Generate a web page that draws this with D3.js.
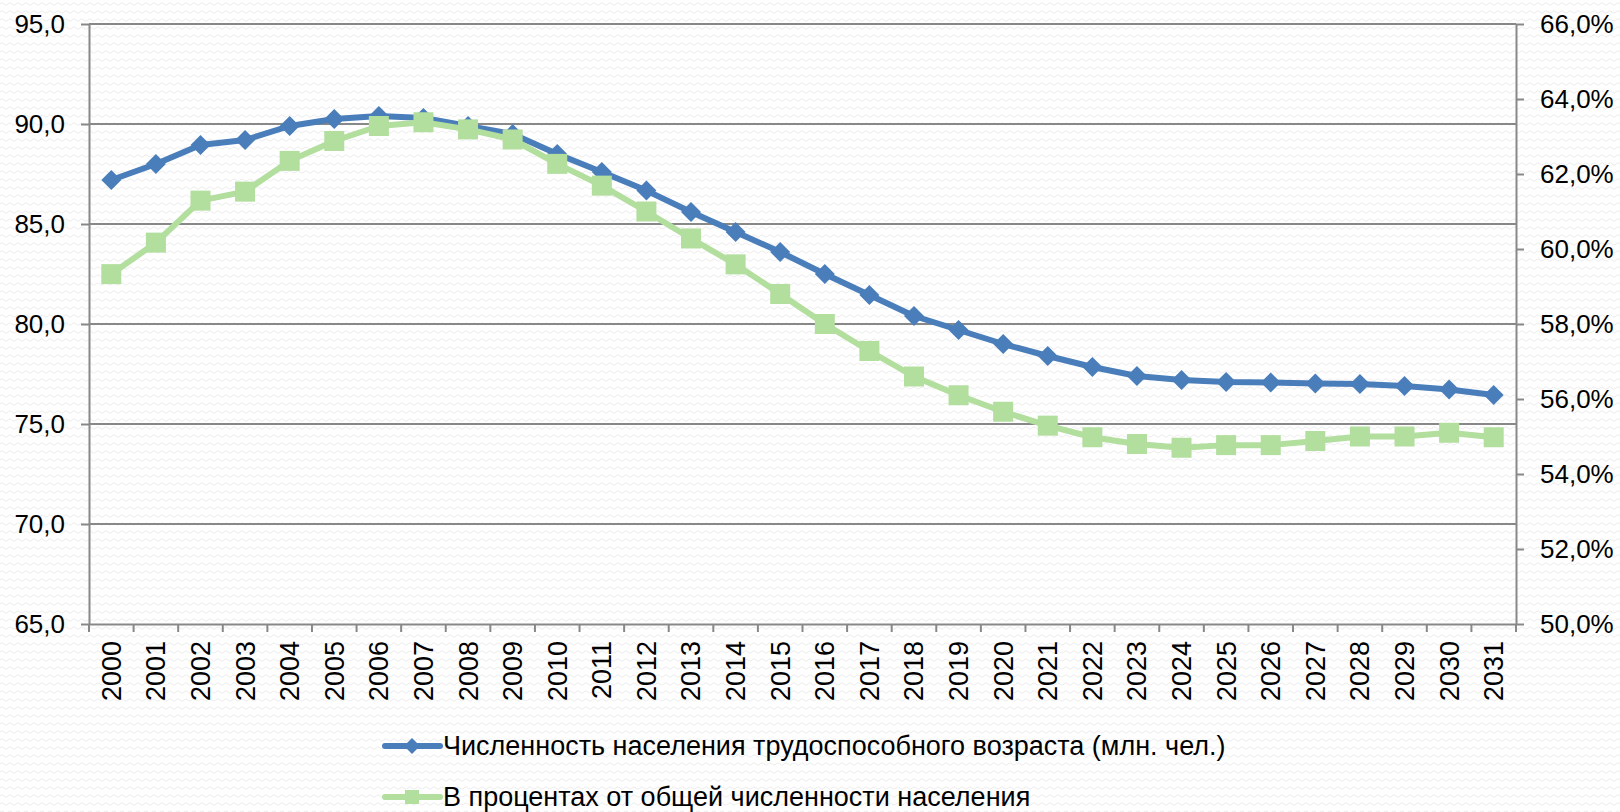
<!DOCTYPE html>
<html>
<head>
<meta charset="utf-8">
<script src="https://cdn.jsdelivr.net/npm/d3@7"></script>
<style>
    body { margin: 0; background: #fff; }
    svg { display: block; font-family: "Liberation Sans", Arial, sans-serif; }
</style>
</head>
<body>
<svg id="chart"></svg>
<script>
// years on the category axis
const years = d3.range(2000, 2032).map(String);

// working-age population, mln people (left axis)
const workingAge = [87.2, 88.0, 88.95, 89.2, 89.9, 90.25, 90.4, 90.3, 89.9, 89.5,
    88.5, 87.6, 86.67, 85.6, 84.6, 83.6, 82.5, 81.45, 80.4, 79.7,
    79.0, 78.4, 77.85, 77.4, 77.2, 77.1, 77.07, 77.03, 77.0, 76.9,
    76.73, 76.45];

// share of the total population, % (right axis)
const shareOfTotal = [59.33, 60.17, 61.29, 61.53, 62.35, 62.88, 63.28, 63.38, 63.19, 62.92,
    62.27, 61.69, 61.0, 60.28, 59.59, 58.8, 58.0, 57.28, 56.6, 56.1,
    55.66, 55.29, 54.98, 54.8, 54.7, 54.77, 54.77, 54.88, 55.0, 55.0,
    55.1, 54.98];

const leftTicks = [65, 70, 75, 80, 85, 90, 95];
const rightTicks = [50, 52, 54, 56, 58, 60, 62, 64, 66];

const seriesNames = [
    "Численность населения трудоспособного возраста (млн. чел.)",
    "В процентах от общей численности населения"
];

class DualLineChart {
    margin = {
        top: 24, right: 104, bottom: 188, left: 89
    }

    constructor(svg, width = 1620, height = 812) {
        this.svg = d3.select(svg);
        this.width = width;
        this.height = height;
        this.innerW = width - this.margin.left - this.margin.right;
        this.innerH = height - this.margin.top - this.margin.bottom;
    }

    initialize() {
        this.svg.attr("width", this.width).attr("height", this.height);

        // faint wavy background texture
        const defs = this.svg.append("defs");
        const pat = defs.append("pattern")
            .attr("id", "waves")
            .attr("patternUnits", "userSpaceOnUse")
            .attr("width", 8).attr("height", 8);
        pat.append("path")
            .attr("d", "M0,4 Q2,1.5 4,4 T8,4")
            .attr("fill", "none")
            .attr("stroke", "#ececec")
            .attr("stroke-width", 1);
        this.svg.append("rect")
            .attr("width", this.width).attr("height", this.height)
            .attr("fill", "url(#waves)");

        this.container = this.svg.append("g")
            .attr("transform", `translate(${this.margin.left}, ${this.margin.top})`);

        this.xScale = d3.scaleBand().domain(years).range([0, this.innerW]);
        this.yLeft = d3.scaleLinear().domain([65, 95]).range([this.innerH, 0]);
        this.yRight = d3.scaleLinear().domain([50, 66]).range([this.innerH, 0]);
    }

    drawAxes() {
        const grey = "#888";
        const comma = v => d3.format(".1f")(v).replace(".", ",");

        this.container.append("g")
            .selectAll("line")
            .data(leftTicks.slice(1))
            .join("line")
            .attr("x1", 0).attr("x2", this.innerW)
            .attr("y1", d => this.yLeft(d)).attr("y2", d => this.yLeft(d))
            .attr("stroke", grey).attr("stroke-width", 2);

        const left = this.container.append("g")
            .call(d3.axisLeft(this.yLeft).tickValues(leftTicks).tickFormat(comma)
                .tickSize(8).tickSizeOuter(0).tickPadding(16));

        const right = this.container.append("g")
            .attr("transform", `translate(${this.innerW}, 0)`)
            .call(d3.axisRight(this.yRight).tickValues(rightTicks).tickFormat(d => comma(d) + "%")
                .tickSize(8).tickSizeOuter(0).tickPadding(16));

        const bottom = this.container.append("g")
            .attr("transform", `translate(0, ${this.innerH})`)
            .call(d3.axisBottom(this.xScale).tickSize(0).tickSizeOuter(0));

        // category separators
        const edges = years.map(d => this.xScale(d)).concat([this.innerW]);
        bottom.selectAll(".sep")
            .data(edges)
            .join("line")
            .attr("class", "sep")
            .attr("x1", d => d).attr("x2", d => d)
            .attr("y1", 0).attr("y2", 8)
            .attr("stroke", grey).attr("stroke-width", 2);

        [left, right, bottom].forEach(g => {
            g.selectAll(".domain").attr("stroke", grey).attr("stroke-width", 2);
            g.selectAll(".tick line").attr("stroke", grey).attr("stroke-width", 2);
            g.selectAll("text").attr("fill", "#000").style("font-size", "26px")
                .style("font-family", "'Liberation Sans', Arial, sans-serif");
        });

        bottom.selectAll(".tick text")
            .attr("transform", "translate(0, 17) rotate(-90)")
            .attr("text-anchor", "end")
            .attr("x", 0).attr("y", 0)
            .attr("dy", "0.35em")
            .style("font-size", "27px");
    }

    drawSeries(values, yScale, color, marker) {
        const cx = d => this.xScale(d) + this.xScale.bandwidth() / 2;
        const pts = years.map((y, i) => [cx(y), yScale(values[i])]);

        this.container.append("path")
            .datum(pts)
            .attr("d", d3.line())
            .attr("fill", "none")
            .attr("stroke", color)
            .attr("stroke-width", 6)
            .attr("stroke-linejoin", "round");

        this.container.append("g")
            .selectAll("path")
            .data(pts)
            .join("path")
            .attr("transform", d => `translate(${d[0]}, ${d[1]})`)
            .attr("d", marker)
            .attr("fill", color);
    }

    drawLegend(items) {
        const lg = this.svg.append("g").attr("transform", "translate(385, 746)");
        const row = lg.selectAll("g")
            .data(items)
            .join("g")
            .attr("transform", (d, i) => `translate(0, ${i * 51})`);

        row.append("line")
            .attr("x1", 0).attr("x2", 55)
            .attr("stroke", d => d.color)
            .attr("stroke-width", 6)
            .attr("stroke-linecap", "round");
        row.append("path")
            .attr("transform", "translate(27, 0)")
            .attr("d", d => d.legendMarker)
            .attr("fill", d => d.color);
        row.append("text")
            .attr("x", 58)
            .attr("dy", "0.35em")
            .style("font-size", "27px")
            .text(d => d.name);
    }
}

const blue = "#4a7ebb";
const green = "#b2de9e";
const diamond = "M0,-10L10,0L0,10L-10,0Z";
const square = "M-10,-10H10V10H-10Z";

const chart = new DualLineChart("#chart");
chart.initialize();
chart.drawAxes();
chart.drawSeries(workingAge, chart.yLeft, blue, diamond);
chart.drawSeries(shareOfTotal, chart.yRight, green, square);
chart.drawLegend([
    { name: seriesNames[0], color: blue, legendMarker: "M0,-8L8,0L0,8L-8,0Z" },
    { name: seriesNames[1], color: green, legendMarker: "M-7,-7H7V7H-7Z" }
]);
</script>
</body>
</html>
